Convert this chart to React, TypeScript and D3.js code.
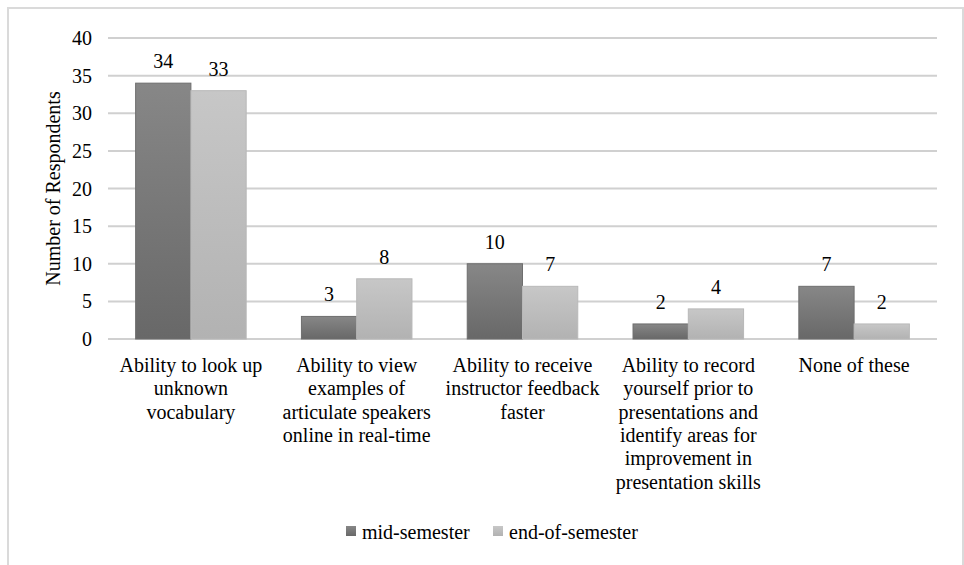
import React from "react";
import * as d3 from "d3";

// Survey categories (each label pre-split into its display lines)
const categories: string[][] = [
  ["Ability to look up", "unknown", "vocabulary"],
  ["Ability to view", "examples of", "articulate speakers", "online in real-time"],
  ["Ability to receive", "instructor feedback", "faster"],
  ["Ability to record", "yourself prior to", "presentations and", "identify areas for", "improvement in", "presentation skills"],
  ["None of these"],
];
const midSemester: number[] = [34, 3, 10, 2, 7];
const endOfSemester: number[] = [33, 8, 7, 4, 2];
const seriesNames: string[] = ["mid-semester", "end-of-semester"];
const yTicks: number[] = [0, 5, 10, 15, 20, 25, 30, 35, 40];

const W = 964;
const H = 565;
const txt = { fontFamily: "Liberation Serif" };
const FS = 20;

export default function App() {
  const plotLeft = 108;
  const plotRight = 937;
  const plotTop = 38;
  const plotBottom = 339;

  const y = d3.scaleLinear().domain([0, 40]).range([plotBottom, plotTop]);
  const x0 = d3
    .scaleBand<number>()
    .domain(d3.range(categories.length))
    .range([plotLeft, plotRight])
    .paddingInner(1 / 3)
    .paddingOuter(1 / 6);
  const x1 = d3.scaleBand<number>().domain([0, 1]).range([0, x0.bandwidth()]);

  const series = [midSemester, endOfSemester];
  const fills = ["url(#gradMid)", "url(#gradEnd)"];
  const strokes = ["#6e6e6e", "#b8b8b8"];

  return (
    <svg width={W} height={H} style={{ position: "absolute", left: 0, top: 0, background: "#fff" }}>
      <defs>
        <linearGradient id="gradMid" x1="0" y1="0" x2="0" y2="1">
          <stop offset="0" stopColor="#878787" />
          <stop offset="1" stopColor="#686868" />
        </linearGradient>
        <linearGradient id="gradEnd" x1="0" y1="0" x2="0" y2="1">
          <stop offset="0" stopColor="#c7c7c7" />
          <stop offset="1" stopColor="#b2b2b2" />
        </linearGradient>
      </defs>

      {/* chart frame */}
      <rect x={8} y={8} width={955} height={600} fill="none" stroke="#dadada" strokeWidth={2} />

      {/* gridlines and y tick labels */}
      {yTicks.map((t) => (
        <g key={t}>
          <line x1={plotLeft} x2={plotRight} y1={y(t)} y2={y(t)} stroke="#d0d0d0" strokeWidth={2} />
          <text x={92} y={y(t)} dy="0.35em" textAnchor="end" fontSize={FS} fill="#000" style={txt}>
            {t}
          </text>
        </g>
      ))}

      {/* y axis title */}
      <text
        transform={`translate(60, ${(plotTop + plotBottom) / 2}) rotate(-90)`}
        textAnchor="middle"
        fontSize={FS}
        fill="#000"
        style={txt}
      >
        Number of Respondents
      </text>

      {/* bars and value labels */}
      {categories.map((_, i) =>
        series.map((s, j) => {
          const bx = (x0(i) ?? 0) + (x1(j) ?? 0);
          const bw = x1.bandwidth();
          const top = y(s[i]);
          return (
            <g key={`${i}-${j}`}>
              <rect
                x={bx}
                y={top}
                width={bw}
                height={plotBottom - top}
                fill={fills[j]}
                stroke={strokes[j]}
                strokeWidth={1}
              />
              <text x={bx + bw / 2} y={top - 15} textAnchor="middle" fontSize={FS} fill="#000" style={txt}>
                {s[i]}
              </text>
            </g>
          );
        })
      )}

      {/* category labels */}
      {categories.map((lines, i) => {
        const cx = (x0(i) ?? 0) + x0.bandwidth() / 2;
        return (
          <text key={i} textAnchor="middle" fontSize={FS} fill="#000" style={txt}>
            {lines.map((ln, k) => (
              <tspan key={k} x={cx} y={372 + k * 23.3}>
                {ln}
              </tspan>
            ))}
          </text>
        );
      })}

      {/* legend */}
      {seriesNames.map((name, j) => {
        const lx = [346, 493][j];
        return (
          <g key={name}>
            <rect x={lx} y={526} width={10} height={10} fill={fills[j]} />
            <text x={lx + 16} y={539} fontSize={FS} fill="#000" style={txt}>
              {name}
            </text>
          </g>
        );
      })}
    </svg>
  );
}
